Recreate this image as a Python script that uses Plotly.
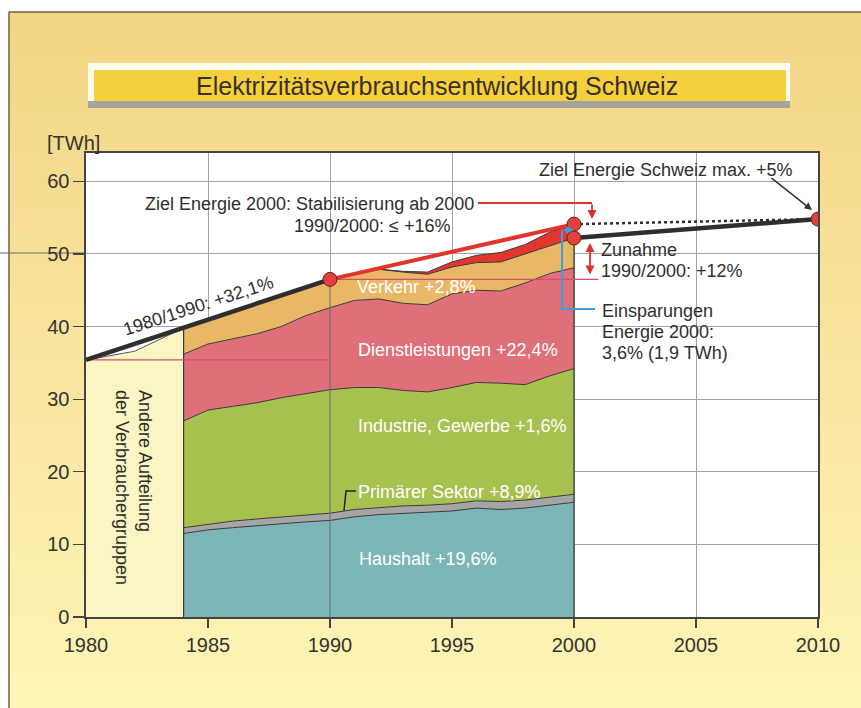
import plotly.graph_objects as go

# ---------------- data ----------------
years_early = [1980, 1981, 1982, 1983, 1984]
total_early = [35.4, 36.0, 36.6, 38.2, 39.8]

years = list(range(1984, 2001))
haushalt   = [11.5, 12.0, 12.3, 12.6, 12.9, 13.1, 13.3, 13.8, 14.1, 14.3, 14.4, 14.6, 15.0, 14.8, 15.0, 15.4, 15.8]
primaer    = [0.8, 0.8, 0.9, 0.9, 0.9, 0.9, 1.0, 1.0, 1.0, 1.0, 1.0, 1.0, 1.0, 1.1, 1.1, 1.1, 1.1]
industrie  = [14.7, 15.7, 15.8, 16.0, 16.4, 16.8, 17.0, 16.8, 16.5, 15.9, 15.6, 16.0, 16.3, 16.3, 15.9, 16.7, 17.3]
dienst     = [9.2, 9.1, 9.3, 9.5, 9.8, 10.7, 11.3, 12.0, 12.2, 12.0, 12.0, 12.9, 12.7, 12.7, 14.0, 14.1, 13.9]
verkehr    = [3.6, 3.3, 3.7, 4.1, 4.2, 3.9, 3.9, 3.7, 4.1, 4.3, 4.2, 3.7, 3.8, 4.0, 4.0, 3.9, 4.1]
einsparung = [0, 0, 0, 0, 0, 0, 0, 0, 0, 0.1, 0.3, 0.7, 1.0, 1.3, 1.3, 1.8, 1.9]

trend_a_years = [1980, 1990]
trend_a_values = [35.4, 46.5]
ziel2000_years = [1990, 2000]
ziel2000_values = [46.5, 54.1]
trend_b_years = [2000, 2010]
trend_b_values = [52.2, 54.8]
zielch_years = [2000, 2010]
zielch_values = [54.1, 54.8]
marker_years = [1990, 2000, 2000, 2010]
marker_values = [46.5, 54.1, 52.2, 54.8]

x_ticks = [1980, 1985, 1990, 1995, 2000, 2005, 2010]
y_ticks = [0, 10, 20, 30, 40, 50, 60]

# ---------------- geometry helpers ----------------
W, H = 861, 708
L, R, T, B = 86, 43, 153, 91
PW, PH = W - L - R, H - T - B


def px(x):
    return (x - L) / PW


def py(y):
    return (H - B - y) / PH


FONT = "Liberation Sans, Arial, Helvetica, sans-serif"
DARK = "#2e2e2e"

fig = go.Figure()

# other consumer split 1980-1984
fig.add_trace(go.Scatter(x=years_early, y=total_early, mode="lines", fill="tozeroy",
                         fillcolor="#fbf5c3", line=dict(color="#555555", width=1),
                         hoverinfo="skip"))

layers = [
    ("Haushalt", haushalt, "#7db6b8"),
    ("Primärer Sektor", primaer, "#a6a6a6"),
    ("Industrie, Gewerbe", industrie, "#a6c14d"),
    ("Dienstleistungen", dienst, "#df6f78"),
    ("Verkehr", verkehr, "#e9b866"),
    ("Einsparungen", einsparung, "#e2352d"),
]
for name, vals, col in layers:
    fig.add_trace(go.Scatter(x=years, y=vals, name=name, stackgroup="s", mode="lines",
                             line=dict(color="#3a3a3a", width=1), fillcolor=col,
                             hoverinfo="skip"))

total_1984 = sum(v[0] for _, v, _ in layers)
total_2000 = sum(v[-1] for _, v, _ in layers)
idx90 = years.index(1990)
total_1990 = sum(v[idx90] for _, v, _ in layers[:-1])

# edges of stacked block
fig.add_trace(go.Scatter(x=[years[0], years[0]], y=[0, total_1984], mode="lines",
                         line=dict(color="#3a3a3a", width=1.2), hoverinfo="skip"))
fig.add_trace(go.Scatter(x=[years[-1], years[-1]], y=[0, total_2000], mode="lines",
                         line=dict(color="#3a3a3a", width=1.2), hoverinfo="skip"))
# 1990 reference vertical
fig.add_trace(go.Scatter(x=[1990, 1990], y=[0, total_1990], mode="lines",
                         line=dict(color="#6a6a6a", width=1), hoverinfo="skip"))
# pink level lines
fig.add_trace(go.Scatter(x=[1980, 1990], y=[total_early[0], total_early[0]], mode="lines",
                         line=dict(color="#d94e6a", width=1.2), hoverinfo="skip"))
fig.add_trace(go.Scatter(x=[1990, 2001], y=[marker_values[0], marker_values[0]], mode="lines",
                         line=dict(color="#d94e6a", width=1.2), hoverinfo="skip"))

# trend lines
fig.add_trace(go.Scatter(x=trend_a_years, y=trend_a_values, mode="lines",
                         line=dict(color=DARK, width=4.5), hoverinfo="skip"))
fig.add_trace(go.Scatter(x=ziel2000_years, y=ziel2000_values, mode="lines",
                         line=dict(color="#e3342c", width=4), hoverinfo="skip"))
fig.add_trace(go.Scatter(x=trend_b_years, y=trend_b_values, mode="lines",
                         line=dict(color=DARK, width=4.5), hoverinfo="skip"))
fig.add_trace(go.Scatter(x=zielch_years, y=zielch_values, mode="lines",
                         line=dict(color=DARK, width=2.5, dash="dot"), hoverinfo="skip"))
fig.add_trace(go.Scatter(x=marker_years, y=marker_values, mode="markers",
                         marker=dict(size=14, color="#e0413b", line=dict(color="#6b1c1c", width=1)),
                         hoverinfo="skip"))

# ---------------- background shapes ----------------
shapes = []
top_c = (244, 213, 134)
bot_c = (253, 245, 182)
n = 36
y_start, y_end = 12, H
for i in range(n):
    t = i / (n - 1)
    c = tuple(int(round(top_c[k] + (bot_c[k] - top_c[k]) * t)) for k in range(3))
    y0 = y_start + i * (y_end - y_start) / n
    y1 = y0 + (y_end - y_start) / n + 0.6
    shapes.append(dict(type="rect", xref="paper", yref="paper", layer="below",
                       x0=px(9), x1=px(W), y0=py(y1), y1=py(y0),
                       fillcolor="rgb(%d,%d,%d)" % c, line=dict(width=0)))
# frame
shapes.append(dict(type="line", xref="paper", yref="paper", layer="below",
                   x0=px(9), x1=px(9), y0=py(12), y1=py(H), line=dict(color="#6e5f45", width=1.5)))
shapes.append(dict(type="line", xref="paper", yref="paper", layer="below",
                   x0=px(9), x1=px(W), y0=py(12), y1=py(12), line=dict(color="#6e5f45", width=1.5)))
# title banner
shapes.append(dict(type="rect", xref="paper", yref="paper", layer="below",
                   x0=px(88), x1=px(790), y0=py(108), y1=py(99),
                   fillcolor="#a7a49b", line=dict(width=0)))
shapes.append(dict(type="rect", xref="paper", yref="paper", layer="below",
                   x0=px(88), x1=px(790), y0=py(101), y1=py(63),
                   fillcolor="#fffdf0", line=dict(width=0)))
shapes.append(dict(type="rect", xref="paper", yref="paper", layer="below",
                   x0=px(94), x1=px(786), y0=py(101), y1=py(70),
                   fillcolor="#f5d03e", line=dict(width=0)))
# plot area white
shapes.append(dict(type="rect", xref="paper", yref="paper", layer="below",
                   x0=0, x1=1, y0=0, y1=1, fillcolor="white", line=dict(width=0)))
# stray 50-line in the margin
shapes.append(dict(type="line", xref="paper", yref="paper", layer="below",
                   x0=px(0), x1=px(L), y0=py(253), y1=py(253),
                   line=dict(color="#6a6a6a", width=1)))

# connectors (above)
RED = "#d9342b"
BLUE = "#3a9ee0"
shapes.append(dict(type="line", xref="paper", yref="paper", layer="above",
                   x0=px(478), x1=px(592), y0=py(203), y1=py(203), line=dict(color=RED, width=1.8)))
shapes.append(dict(type="path", xref="paper", yref="paper", layer="above",
                   path="M %f,%f L %f,%f L %f,%f" % (px(595), py(309), px(562), py(309), px(562), py(230)),
                   line=dict(color=BLUE, width=2)))
shapes.append(dict(type="path", xref="paper", yref="paper", layer="above",
                   path="M %f,%f L %f,%f L %f,%f" % (px(356), py(491), px(346), py(491), px(344), py(511)),
                   line=dict(color="#222222", width=1.5)))

# ---------------- annotations ----------------
ann = []


def txt(text, x, y, xanchor="left", size=18, color=DARK, angle=0, align="left"):
    ann.append(dict(text=text, x=px(x), y=py(y), xref="paper", yref="paper",
                    xanchor=xanchor, yanchor="middle", showarrow=False, textangle=angle,
                    align=align, font=dict(family=FONT, size=size, color=color)))


txt("Elektrizitätsverbrauchsentwicklung Schweiz", 437, 86, xanchor="center", size=25, color="#3b2f25")
txt("[TWh]", 45, 143, size=20, color="#333333")
txt("Ziel Energie Schweiz max. +5%", 666, 170, xanchor="center")
txt("Ziel Energie 2000: Stabilisierung ab 2000", 476, 204, xanchor="right")
txt("1990/2000: ≤ +16%", 453, 226, xanchor="right")
txt("1980/1990: +32,1%", 198, 306, xanchor="center", angle=-18)
txt("Verkehr +2,8%", 355, 287, color="white")
txt("Dienstleistungen +22,4%", 356, 350, color="white")
txt("Industrie, Gewerbe +1,6%", 356, 426, color="white")
txt("Primärer Sektor +8,9%", 356, 492, color="white")
txt("Haushalt +19,6%", 357, 559, color="white")
txt("Zunahme", 599, 250)
txt("1990/2000: +12%", 599, 271)
txt("Einsparungen", 600, 311)
txt("Energie 2000:", 600, 332)
txt("3,6% (1,9 TWh)", 600, 353)
txt("Andere Aufteilung<br>der Verbrauchergruppen", 134, 487, xanchor="center", angle=90)


def arrow(hx, hy, tx, ty, color, width=1.5, side="end", head=2, size=1.0):
    ann.append(dict(text="", x=px(hx), y=py(hy), xref="paper", yref="paper",
                    ax=tx - hx, ay=ty - hy, axref="pixel", ayref="pixel",
                    showarrow=True, arrowhead=head, startarrowhead=head, arrowsize=size,
                    startarrowsize=size, arrowwidth=width, arrowcolor=color, arrowside=side))


arrow(592, 219, 592, 203, RED, width=1.8)
arrow(590, 243, 590, 276, RED, width=1.8, side="end+start")
arrow(574, 230, 562, 230, BLUE, width=2, size=0.8)
arrow(812, 210, 770, 177, "#333333", width=1.5)

fig.update_layout(
    width=W, height=H,
    margin=dict(l=L, r=R, t=T, b=B),
    paper_bgcolor="white", plot_bgcolor="rgba(0,0,0,0)",
    showlegend=False, hovermode=False,
    shapes=shapes, annotations=ann,
    font=dict(family=FONT, color="#333333"),
    xaxis=dict(range=[1980, 2010], tickvals=x_ticks, showgrid=True, gridcolor="#a3a3a3", gridwidth=1,
               showline=True, linecolor="#444444", linewidth=1.6, mirror=True, zeroline=False,
               ticks="outside", ticklen=9, tickcolor="#444444", tickwidth=1.3,
               tickfont=dict(family=FONT, size=20, color="#333333"), fixedrange=True),
    yaxis=dict(range=[0, 63.9], tickvals=y_ticks, showgrid=True, gridcolor="#a3a3a3", gridwidth=1,
               showline=True, linecolor="#444444", linewidth=1.6, mirror=True, zeroline=False,
               ticks="outside", ticklen=11, tickcolor="#444444", tickwidth=1.3,
               tickfont=dict(family=FONT, size=20, color="#333333"), fixedrange=True),
)

fig.write_html("out.html",
               config={"displayModeBar": False, "staticPlot": True},
               post_script="document.body.style.margin='0';document.body.style.padding='0';"
                           "document.body.style.overflow='hidden';")
